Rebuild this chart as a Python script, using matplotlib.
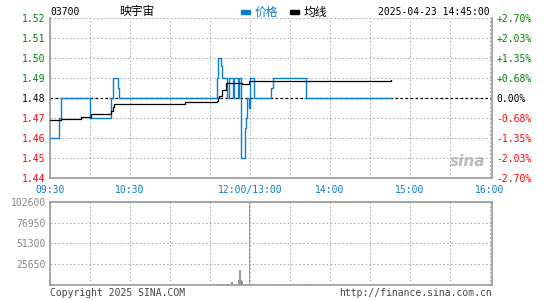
import matplotlib
matplotlib.use("Agg")
import matplotlib.pyplot as plt

plt.rcParams['font.family'] = ['DejaVu Sans Mono', 'Noto Sans CJK SC']

# price change points (time, price)
price_times = ['09:30', '09:37', '09:38', '10:00', '10:16', '10:17', '10:21', '10:22',
               '11:35', '11:36', '11:38', '11:39', '11:43', '11:44', '11:47', '11:48',
               '11:51', '11:52', '11:53', '11:56', '11:57', '11:58', '11:59', '13:00',
               '13:03', '13:16', '13:17', '13:42', '14:46']
prices = [1.46, 1.47, 1.48, 1.47, 1.48, 1.49, 1.485, 1.48,
          1.49, 1.50, 1.496, 1.49, 1.48, 1.49, 1.48, 1.49,
          1.48, 1.49, 1.45, 1.465, 1.47, 1.48, 1.475, 1.49,
          1.48, 1.485, 1.49, 1.48, 1.48]

avg_times = ['09:30', '09:38', '09:53', '10:01', '10:16', '10:17', '10:18', '11:11',
             '11:35', '11:36', '11:37', '11:39', '11:42', '11:54', '11:58', '11:59', '14:46']
avg_prices = [1.4688, 1.4697, 1.4703, 1.4720, 1.4735, 1.4755, 1.4770, 1.4779,
              1.4785, 1.4798, 1.4810, 1.4840, 1.4877, 1.4868, 1.4870, 1.4887, 1.4888]

vol_times = ['09:31', '09:32', '10:17', '10:19', '11:25', '11:35', '11:37', '11:43',
             '11:46', '11:48', '11:51', '11:52', '11:53', '11:54', '11:56', '11:59',
             '13:21', '13:23', '13:43', '14:39']
volumes = [1200, 900, 1200, 800, 600, 1000, 800, 1200,
           3500, 1500, 6000, 18500, 6000, 5000, 1000, 102600,
           1000, 1000, 1200, 800]

pre_close = 1.48
price_ticks = [1.44, 1.45, 1.46, 1.47, 1.48, 1.49, 1.50, 1.51, 1.52]
time_labels = ['09:30', '', '10:30', '', '', '12:00/13:00', '', '14:00', '', '15:00', '', '16:00']
vol_ticks = [0, 25650, 51300, 76950, 102600]

BLUE = '#0a7fd0'
GREEN = '#008000'
RED = '#ff0000'
GRID = '#b0b0b0'
FRAME = '#999999'


def to_min(t):
    h, m = map(int, t.split(':'))
    m = h * 60 + m
    if m >= 13 * 60:
        return 150 + m - 13 * 60
    return m - (9 * 60 + 30)


W, H = 545, 300
fig = plt.figure(figsize=(W / 100, H / 100), dpi=100)
ax = fig.add_axes([50 / W, 1 - 178 / H, 442 / W, 160 / H])
axv = fig.add_axes([50 / W, 1 - 285 / H, 442 / W, 83.3 / H])

# ---- price panel
px = [to_min(t) for t in price_times]
ax_x = [to_min(t) for t in avg_times]
ax.plot(px, prices, drawstyle='steps-post', color=BLUE, lw=1.0, zorder=3)
ax.plot(ax_x, avg_prices, drawstyle='steps-post', color='black', lw=0.9, zorder=4)
ax.axhline(pre_close, color='black', lw=0.9, ls=(0, (2, 2)), zorder=2)

xt = list(range(0, 331, 30))
ax.set_xlim(0, 331.5)
ax.set_ylim(price_ticks[0], price_ticks[-1])
ax.set_xticks(xt)
ax.set_xticklabels(time_labels, color=BLUE, fontsize=7)
ax.set_yticks(price_ticks)
ax.set_yticklabels(['%.2f' % p for p in price_ticks], fontsize=7)
for p, lab in zip(price_ticks, ax.get_yticklabels()):
    lab.set_color(GREEN if p > pre_close + 1e-9 else (RED if p < pre_close - 1e-9 else 'black'))
ax.tick_params(length=0, pad=3)
ax.tick_params(axis='x', pad=5)
ax.grid(True, color=GRID, ls=(0, (1.5, 2)), lw=0.8)
for s in ['left', 'right', 'bottom']:
    ax.spines[s].set_color(FRAME)
    ax.spines[s].set_linewidth(1.2)
ax.spines['top'].set_visible(False)

axr = ax.twinx()
axr.set_ylim(price_ticks[0], price_ticks[-1])
axr.set_yticks(price_ticks)
pct = [(p / pre_close - 1) * 100 for p in price_ticks]
axr.set_yticklabels([('+' if v > 0.001 else '') + '%.2f%%' % v for v in pct], fontsize=7, ha='left')
for v, lab in zip(pct, axr.get_yticklabels()):
    lab.set_color(GREEN if v > 0.001 else (RED if v < -0.001 else 'black'))
axr.tick_params(length=0, pad=3)
for s in axr.spines.values():
    s.set_visible(False)

# watermark
ax.text(0.985, 0.1, 'sina', transform=ax.transAxes, ha='right', va='center',
        fontsize=11, fontstyle='italic', fontweight='bold', color='#bbbbbb',
        family='DejaVu Sans', zorder=1)

# ---- volume panel
vx = [to_min(t) for t in vol_times]
axv.bar(vx, volumes, width=0.9, color=FRAME, align='edge', zorder=3)
axv.set_xlim(0, 331.5)
axv.set_ylim(0, vol_ticks[-1])
axv.set_xticks(xt)
axv.set_xticklabels([])
axv.set_yticks(vol_ticks)
axv.set_yticklabels([''] + [str(v) for v in vol_ticks[1:]], fontsize=7, color='#888888')
axv.tick_params(length=0, pad=3)
axv.grid(True, color=GRID, ls=(0, (1.5, 2)), lw=0.8)
for s in axv.spines.values():
    s.set_color(FRAME)
    s.set_linewidth(1.2)

# ---- header / footer texts
fig.text(50 / W, 1 - 12 / H, '03700', fontsize=7, va='center', ha='left')
fig.text(137 / W, 1 - 12 / H, '映宇宙', fontsize=8.5, va='center', ha='center',
         family=['Noto Sans CJK SC', 'DejaVu Sans'])
fig.patches.append(plt.Rectangle((241 / W, 1 - 13.5 / H), 9 / W, 3 / H,
                                 transform=fig.transFigure, color=BLUE))
fig.text(255 / W, 1 - 12 / H, '价格', fontsize=8.5, va='center', ha='left', color=BLUE,
         family=['Noto Sans CJK SC', 'DejaVu Sans'])
fig.patches.append(plt.Rectangle((290 / W, 1 - 13.5 / H), 9 / W, 3 / H,
                                 transform=fig.transFigure, color='black'))
fig.text(304 / W, 1 - 12 / H, '均线', fontsize=8.5, va='center', ha='left',
         family=['Noto Sans CJK SC', 'DejaVu Sans'])
fig.text(490 / W, 1 - 12 / H, '2025-04-23 14:45:00', fontsize=7, va='center', ha='right')

fig.text(50 / W, 1 - 293 / H, 'Copyright 2025 SINA.COM', fontsize=7, va='center',
         ha='left', color='#444444')
fig.text(492 / W, 1 - 293 / H, 'http://finance.sina.com.cn', fontsize=7, va='center',
         ha='right', color='#444444')

fig.savefig('out.png', dpi=100, facecolor='white')
